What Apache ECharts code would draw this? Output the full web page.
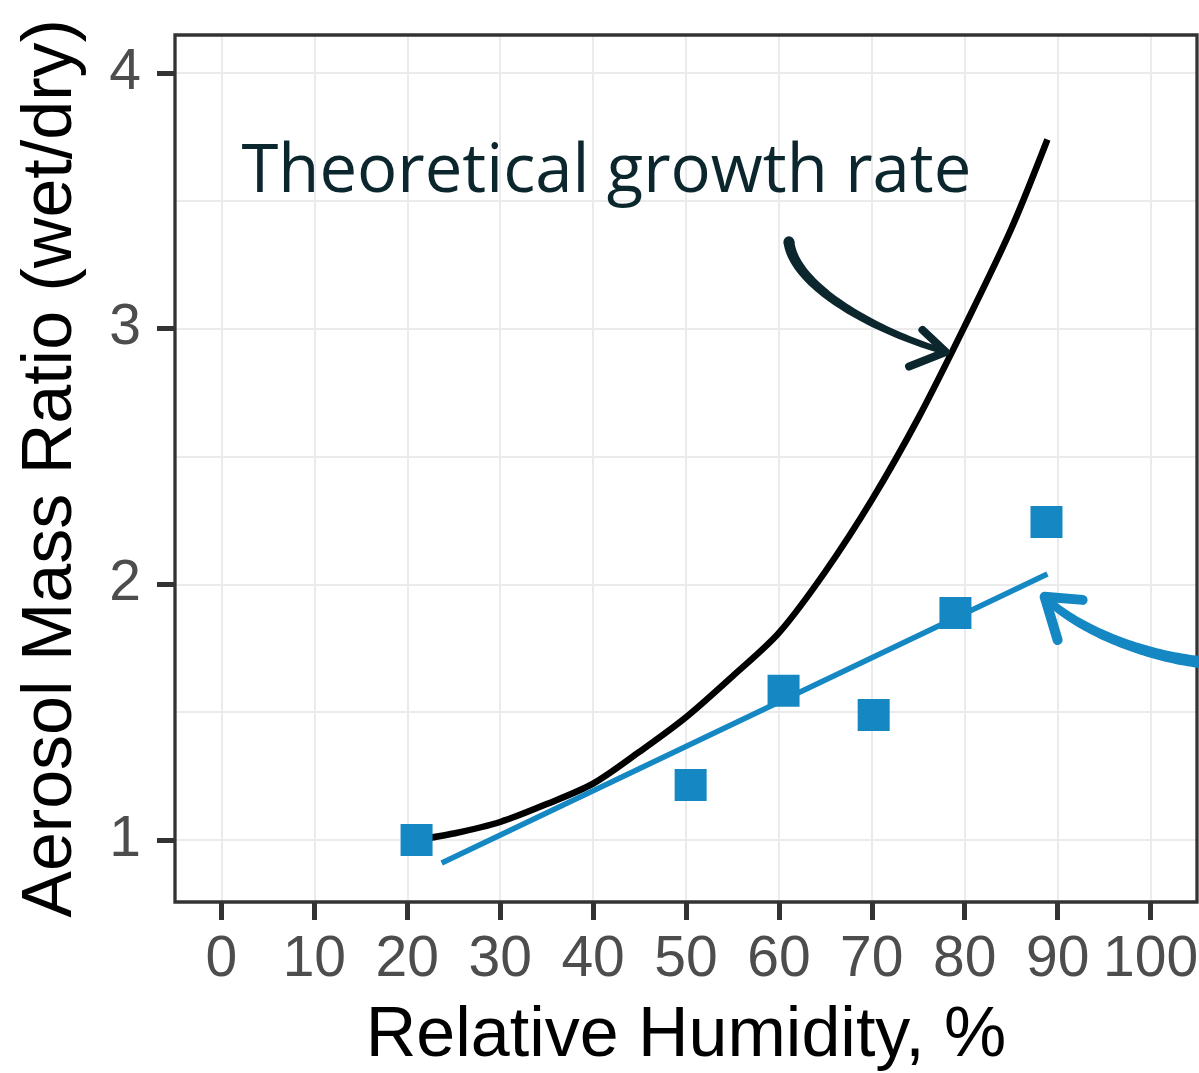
<!DOCTYPE html>
<html>
<head>
<meta charset="utf-8">
<script src="https://cdn.jsdelivr.net/npm/echarts@6/dist/echarts.min.js"></script>
<style>
  html, body { margin: 0; padding: 0; background: #ffffff; }
  #chart { width: 1199px; height: 1073px; }
</style>
</head>
<body>
<div id="chart"></div>
<script>
// Measured samples: relative humidity (%) and wet/dry aerosol mass ratio
const rhMeasured    = [21, 50.5, 60.5, 70.2, 79, 88.8];
const ratioMeasured = [1.00, 1.215, 1.583, 1.489, 1.888, 2.244];

// Theoretical growth curve
const rhTheory    = [21, 25, 30, 35, 40, 45, 50, 55, 60, 65, 70, 75, 80, 85, 88.9];
const ratioTheory = [1.00, 1.025, 1.07, 1.14, 1.22, 1.345, 1.48, 1.64, 1.81, 2.05, 2.33, 2.65, 3.01, 3.39, 3.74];

// Linear fit through the measurements (end points)
const rhFit    = [23.7, 88.9];
const ratioFit = [0.91, 2.04];

// Axis ticks and grid
const rhTicks        = [0, 10, 20, 30, 40, 50, 60, 70, 80, 90, 100];
const ratioTicks     = [1, 2, 3, 4];
const ratioMinorGrid = [1.5, 2.5, 3.5];

// Annotation, placed in data units (humidity, ratio)
const noteText      = 'Theoretical growth rate';
const noteAt        = [2.15, 3.61];
const darkArrowPath = [[61.08, 3.340], [61.61, 3.171], [69.89, 2.995], [77.96, 2.909]];
const darkArrowHead = [[75.45, 2.995], [77.96, 2.909], [74.01, 2.852]];
const blueArrowPath = [[105.27, 1.696], [98.92, 1.724], [92.47, 1.822], [89.03, 1.935]];
const blueArrowHead = [[92.69, 1.939], [88.60, 1.951], [90.00, 1.782]];

const BLUE = '#1588C3';
const INK = '#0B262D';
const GRID = '#EBEBEB';
const AXIS_DARK = '#333333';
const SANS = '"Liberation Sans", Arial, Helvetica, sans-serif';

const zip = (xs, ys) => xs.map((x, i) => [x, ys[i]]);

const chart = echarts.init(document.getElementById('chart'), null, { renderer: 'canvas' });

const yRange = { min: 0.757, max: 4.149 };

chart.setOption({
  backgroundColor: '#ffffff',
  animation: false,
  grid: {
    left: 175, right: 2, top: 35, bottom: 171,
    outerBoundsMode: 'none', containLabel: false,
    show: true, borderColor: AXIS_DARK, borderWidth: 3.3, backgroundColor: 'transparent',
    z: 3
  },
  xAxis: {
    type: 'value', min: -5, max: 105, position: 'bottom',
    name: 'Relative Humidity, %', nameLocation: 'middle', nameGap: 100,
    nameTextStyle: { fontFamily: SANS, fontSize: 70, color: '#000000' },
    axisLine: { show: false, onZero: false },
    axisTick: { show: true, customValues: rhTicks, length: 18, lineStyle: { color: AXIS_DARK, width: 5 } },
    axisLabel: { customValues: rhTicks, margin: 30, fontFamily: SANS, fontSize: 57, color: '#4D4D4D' },
    splitLine: { show: true, lineStyle: { color: GRID, width: 2 } }
  },
  yAxis: [
    {
      type: 'value', min: yRange.min, max: yRange.max, position: 'left',
      name: 'Aerosol Mass Ratio (wet/dry)', nameLocation: 'middle', nameGap: 88, nameRotate: 90,
      nameTextStyle: { fontFamily: SANS, fontSize: 70, color: '#000000' },
      axisLine: { show: false, onZero: false },
      axisTick: { show: true, customValues: ratioTicks, length: 18, lineStyle: { color: AXIS_DARK, width: 5 } },
      axisLabel: { customValues: ratioTicks, margin: 34, fontFamily: SANS, fontSize: 57, color: '#4D4D4D' },
      splitLine: { show: true, lineStyle: { color: GRID, width: 2 } }
    },
    {
      type: 'value', min: yRange.min, max: yRange.max, position: 'left',
      axisLine: { show: false, onZero: false },
      axisTick: { show: false, customValues: ratioMinorGrid },
      axisLabel: { show: false, customValues: ratioMinorGrid },
      splitLine: { show: true, lineStyle: { color: GRID, width: 2 } }
    }
  ],
  series: [
    {
      name: 'Theoretical', type: 'line', data: zip(rhTheory, ratioTheory),
      smooth: 0.3, showSymbol: false,
      lineStyle: { color: '#000000', width: 6.5, cap: 'butt' }, z: 4
    },
    {
      name: 'Fit', type: 'line', data: zip(rhFit, ratioFit),
      showSymbol: false, lineStyle: { color: BLUE, width: 5.5 }, z: 5
    },
    {
      name: 'Measured', type: 'scatter', data: zip(rhMeasured, ratioMeasured),
      symbol: 'rect', symbolSize: 32, itemStyle: { color: BLUE, opacity: 1 }, z: 6
    }
  ]
});

// Hand-drawn style arrows: a tapered cubic stroke plus a rounded chevron head
function toPx(pt) { return chart.convertToPixel({ gridIndex: 0 }, pt); }

function taperedStroke(ctrl, w0, w1) {
  const [p0, p1, p2, p3] = ctrl.map(toPx);
  const n = 48, left = [], right = [];
  const bez = (t, i) => {
    const u = 1 - t;
    return u*u*u*p0[i] + 3*u*u*t*p1[i] + 3*u*t*t*p2[i] + t*t*t*p3[i];
  };
  const der = (t, i) => {
    const u = 1 - t;
    return 3*u*u*(p1[i]-p0[i]) + 6*u*t*(p2[i]-p1[i]) + 3*t*t*(p3[i]-p2[i]);
  };
  for (let k = 0; k <= n; k++) {
    const t = k / n;
    const x = bez(t, 0), y = bez(t, 1);
    const dx = der(t, 0), dy = der(t, 1);
    const len = Math.hypot(dx, dy) || 1;
    const nx = -dy / len, ny = dx / len;
    const w = (w0 + (w1 - w0) * t) / 2;
    left.push([x + nx * w, y + ny * w]);
    right.push([x - nx * w, y - ny * w]);
  }
  return left.concat(right.reverse());
}

function arrowGraphics(path, head, color, w0, w1, headWidth) {
  const start = toPx(path[0]);
  return [
    { type: 'polygon', shape: { points: taperedStroke(path, w0, w1) }, style: { fill: color }, z: 100 },
    { type: 'circle', shape: { cx: start[0], cy: start[1], r: w0 / 2 }, style: { fill: color }, z: 100 },
    { type: 'polyline', shape: { points: head.map(toPx) },
      style: { stroke: color, lineWidth: headWidth, lineCap: 'round', lineJoin: 'round', fill: null }, z: 100 }
  ];
}

const notePx = toPx(noteAt);
chart.setOption({
  graphic: [
    {
      type: 'text', x: notePx[0], y: notePx[1], z: 100,
      style: { text: noteText, fill: INK, font: '67px "Open Sans", Lato, sans-serif', align: 'left', verticalAlign: 'middle' }
    },
    ...arrowGraphics(darkArrowPath, darkArrowHead, INK, 11, 6, 8),
    ...arrowGraphics(blueArrowPath, blueArrowHead, BLUE, 12, 8, 10)
  ]
});
</script>
</body>
</html>
